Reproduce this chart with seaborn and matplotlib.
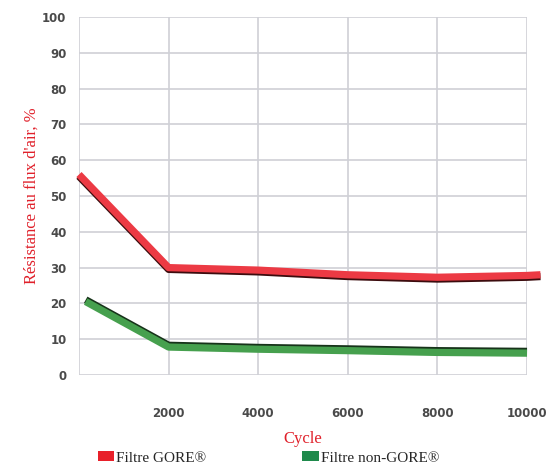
import pandas as pd
import seaborn as sb
import matplotlib.pyplot as plt
import matplotlib.patheffects as pe
from matplotlib.patches import Patch

# valeurs
cycles_gore = [0, 2000, 4000, 6000, 8000, 10000, 10300]
resist_gore = [56, 30, 29.3, 28, 27.3, 27.8, 28]
cycles_autre = [150, 2000, 4000, 6000, 8000, 10000]
resist_autre = [20.5, 7.8, 7.2, 6.8, 6.3, 6.1]
series = ['Filtre GORE®', 'Filtre non-GORE®']
couleurs = ['#ec3a44', '#46a04e']
ombres = ['#3c0c0e', '#17331a']
xticks = [0, 2000, 4000, 6000, 8000, 10000]
xlabels = ['', '2000', '4000', '6000', '8000', '10000']
yticks = list(range(0, 101, 10))

df = pd.concat([
    pd.DataFrame({'Cycle': cycles_gore, 'val': resist_gore, 'serie': series[0]}),
    pd.DataFrame({'Cycle': cycles_autre, 'val': resist_autre, 'serie': series[1]}),
])

sb.set_style('white')
plt.rcParams['font.family'] = ['DejaVu Sans']
fig = plt.figure(figsize=(5.57, 4.66), dpi=100)
ax = fig.add_axes([0.1418, 0.1953, 0.8044, 0.7682])

sb.lineplot(data=df, x='Cycle', y='val', hue='serie', palette=couleurs,
            linewidth=5.2, legend=False, ax=ax, sort=False)
decal = [(0, -1.3), (0, 1.3)]
for ln, c, d in zip(ax.get_lines(), ombres, decal):
    ln.set_clip_on(False)
    ln.set_solid_capstyle('butt')
    ln.set_solid_joinstyle('round')
    ln.set_path_effects([pe.SimpleLineShadow(offset=d, shadow_color=c, alpha=1),
                         pe.Normal()])

ax.set_xlim(0, 10000)
ax.set_ylim(0, 100)
ax.set_xticks(xticks)
ax.set_xticklabels(xlabels)
ax.set_yticks(yticks)
ax.grid(True, color='#cfd0d6', linewidth=1.2)
for s in ax.spines.values():
    s.set_visible(False)
ax.tick_params(axis='x', length=5, width=1.2, color='#cfd0d6', pad=18,
               labelsize=8.5, labelcolor='#4a4a4a')
ax.tick_params(axis='y', length=0, pad=9, labelsize=8.5, labelcolor='#4a4a4a')
for t in ax.get_xticklabels() + ax.get_yticklabels():
    t.set_fontweight('bold')

rouge = '#e0202a'
ax.set_xlabel('Cycle', family='Liberation Serif', fontsize=12, color=rouge, labelpad=8)
ax.set_ylabel("Résistance au flux d'air, %", family='Liberation Serif',
              fontsize=12, color=rouge, labelpad=2)

poignees = [Patch(facecolor=c, edgecolor='none') for c in ['#e8202a', '#1f8a4c']]
fig.legend(poignees, series, loc='center', bbox_to_anchor=(0.482, 0.017), ncol=2,
           frameon=False, handlelength=1.05, handleheight=0.6, handletextpad=0.15,
           columnspacing=6.3, prop={'family': 'Liberation Serif', 'size': 11})

fig.savefig('out.png', dpi=100)
